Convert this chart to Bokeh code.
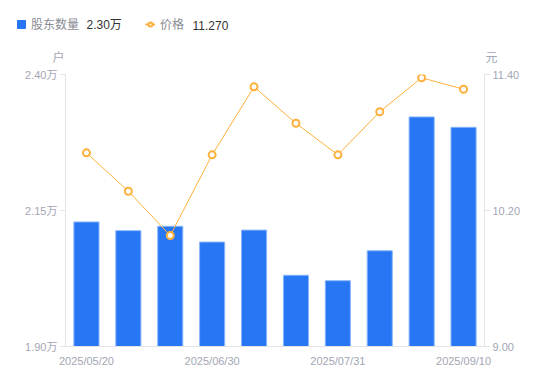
from bokeh.plotting import figure
from bokeh.layouts import column
from bokeh.models import (Range1d, LinearAxis, FixedTicker, PrintfTickFormatter,
                          Legend, LegendItem, Label, ColumnDataSource)
from bokeh.embed import file_html
from bokeh.resources import INLINE

dates = ["2025/05/20", "2025/05/30", "2025/06/10", "2025/06/30", "2025/07/10",
         "2025/07/20", "2025/07/31", "2025/08/20", "2025/08/31", "2025/09/10"]
holders = [2.129, 2.113, 2.121, 2.092, 2.114, 2.031, 2.021, 2.076, 2.322, 2.303]  # 万户
prices = [10.709, 10.370, 9.979, 10.691, 11.291, 10.970, 10.691, 11.071, 11.371, 11.270]
left_ticks = [1.90, 2.15, 2.40]
right_ticks = [9.00, 10.20, 11.40]
label_idx = [0, 3, 6, 9]
series_names = ["股东数量", "价格"]
left_unit = "户"
right_unit = "元"

FONT = "Liberation Sans, Noto Sans CJK SC"
TICK_COLOR = "#a3a6b4"
AXIS_COLOR = "#e3e3e6"
BAR_COLOR = "#2777f5"
BAR_EDGE = "#8db8fa"
LINE_COLOR = "#fdb03c"

W = 550
TOP_H = 64

# ---------------- main chart ----------------
src = ColumnDataSource(dict(x=list(range(len(dates))), h=holders, p=prices))

p = figure(width=W, height=381 - TOP_H, output_backend="svg", toolbar_location=None,
           x_range=Range1d(-0.5, len(dates) - 0.5), y_range=Range1d(1.90, 2.40),
           min_border_left=65, min_border_right=66, min_border_top=10, min_border_bottom=35)
p.frame_align = False
p.extra_y_ranges = {"price": Range1d(9.00, 11.40)}
p.outline_line_color = None
p.xgrid.visible = False
p.ygrid.visible = False

bars = p.vbar(x="x", top="h", bottom=1.90, width=0.6, source=src,
              fill_color=BAR_COLOR, line_color=BAR_EDGE, line_width=1)
ln = p.line(x="x", y="p", source=src, y_range_name="price", line_color=LINE_COLOR, line_width=1)
sc = p.scatter(x="x", y="p", source=src, y_range_name="price", size=7,
               fill_color="white", line_color=LINE_COLOR, line_width=2)

ya = p.yaxis[0]
ya.ticker = FixedTicker(ticks=left_ticks)
ya.formatter = PrintfTickFormatter(format="%.2f万")
ra = LinearAxis(y_range_name="price", ticker=FixedTicker(ticks=right_ticks),
                formatter=PrintfTickFormatter(format="%.2f"))
p.add_layout(ra, "right")

for ax in (ya, ra):
    ax.axis_line_color = AXIS_COLOR
    ax.major_tick_line_color = AXIS_COLOR
    ax.major_tick_out = 5
    ax.major_tick_in = 0
    ax.minor_tick_line_color = None
    ax.major_label_text_color = TICK_COLOR
    ax.major_label_text_font = FONT
    ax.major_label_text_font_size = "11px"
    ax.major_label_standoff = 3

xa = p.xaxis[0]
xa.ticker = FixedTicker(ticks=label_idx)
xa.major_label_overrides = {i: dates[i] for i in label_idx}
xa.axis_line_color = AXIS_COLOR
xa.major_tick_line_color = None
xa.minor_tick_line_color = None
xa.major_label_text_color = TICK_COLOR
xa.major_label_text_font = FONT
xa.major_label_text_font_size = "11px"
xa.major_label_standoff = 2

# ---------------- header strip (legend + unit labels) ----------------
top = figure(width=W, height=TOP_H, output_backend="svg", toolbar_location=None,
             x_range=Range1d(0, W), y_range=Range1d(TOP_H, 0),
             x_axis_type=None, y_axis_type=None,
             min_border_left=0, min_border_right=0, min_border_top=0, min_border_bottom=0)
top.frame_align = False
top.outline_line_color = None
top.xgrid.visible = False
top.ygrid.visible = False

nan = float("nan")
proxy = ColumnDataSource(dict(x=[nan], y=[nan]))
lb = top.vbar(x="x", top="y", width=1, source=proxy, fill_color=BAR_COLOR, line_color=BAR_COLOR)
ll = top.line(x="x", y="y", source=proxy, line_color=LINE_COLOR, line_width=2)
ls = top.scatter(x="x", y="y", source=proxy, size=6, fill_color="white",
                 line_color=LINE_COLOR, line_width=2)

legend = Legend(items=[
    LegendItem(label=series_names[0], renderers=[lb]),
    LegendItem(label=series_names[1], renderers=[ll, ls]),
], orientation="horizontal", location=(16, 32))
legend.label_text_font = FONT
legend.label_text_font_size = "12px"
legend.label_text_color = "#8a8c94"
legend.label_standoff = 5
legend.glyph_width = 10
legend.glyph_height = 10
legend.spacing = 66
legend.padding = 0
legend.margin = 0
legend.border_line_color = None
legend.background_fill_alpha = 0
top.add_layout(legend, "center")

top.add_layout(Label(x=86, y=24.5, text="%.2f万" % holders[-1], text_align="left",
                     text_baseline="middle", text_color="#333333", text_font=FONT,
                     text_font_size="12px"))
top.add_layout(Label(x=192, y=24.5, text="%.3f" % prices[-1], text_align="left",
                     text_baseline="middle", text_color="#333333", text_font=FONT,
                     text_font_size="12px"))
top.add_layout(Label(x=64, y=57, text=left_unit, text_align="right", text_baseline="middle",
                     text_color=TICK_COLOR, text_font=FONT, text_font_size="12px"))
top.add_layout(Label(x=485, y=57, text=right_unit, text_align="left", text_baseline="middle",
                     text_color=TICK_COLOR, text_font=FONT, text_font_size="12px"))

layout = column(top, p, spacing=0)
open("out.html", "w").write(file_html(layout, INLINE))
